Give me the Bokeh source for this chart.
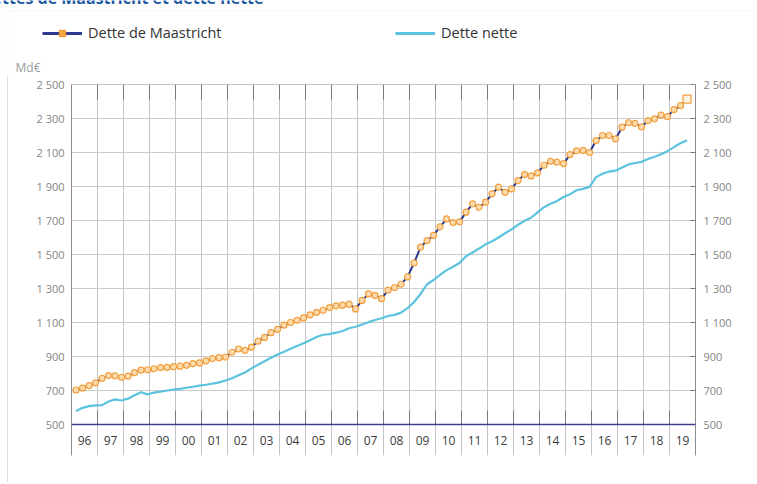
from bokeh.plotting import figure
from bokeh.layouts import column
from bokeh.models import (Range1d, FixedTicker, LinearAxis, Legend, LegendItem,
                          Span, Label, BoxAnnotation)
from bokeh.embed import file_html
from bokeh.resources import INLINE
from bokeh.core.properties import value

# ---------------- data ----------------
title_text = "Dettes de Maastricht et dette nette"
years = list(range(1996, 2020))
year_labels = ["96", "97", "98", "99", "00", "01", "02", "03", "04", "05", "06", "07",
               "08", "09", "10", "11", "12", "13", "14", "15", "16", "17", "18", "19"]

# quarterly, 1996 Q1 .. 2019 Q3 (Md€)
maastricht = [
    703, 714, 729, 745,      # 1996
    772, 788, 786, 778,      # 1997
    785, 805, 820, 822,      # 1998
    828, 835, 836, 840,      # 1999
    843, 848, 858, 862,      # 2000
    874, 888, 893, 897,      # 2001
    925, 944, 936, 955,      # 2002
    990, 1012, 1040, 1060,   # 2003
    1085, 1100, 1113, 1127,  # 2004
    1145, 1160, 1172, 1188,  # 2005
    1198, 1202, 1208, 1180,  # 2006
    1230, 1268, 1260, 1240,  # 2007
    1290, 1306, 1325, 1368,  # 2008
    1450, 1543, 1582, 1612,  # 2009
    1663, 1710, 1688, 1692,  # 2010
    1749, 1798, 1778, 1808,  # 2011
    1857, 1896, 1866, 1886,  # 2012
    1935, 1970, 1962, 1980,  # 2013
    2025, 2048, 2043, 2035,  # 2014
    2088, 2110, 2112, 2100,  # 2015
    2170, 2200, 2200, 2180,  # 2016
    2249, 2275, 2271, 2250,  # 2017
    2288, 2298, 2320, 2311,  # 2018
    2352, 2376, 2414,        # 2019
]

dette_nette = [
    580, 598, 608, 612,      # 1996
    614, 635, 648, 641,      # 1997
    652, 672, 690, 677,      # 1998
    688, 693, 700, 705,      # 1999
    710, 716, 722, 729,      # 2000
    734, 740, 748, 759,      # 2001
    772, 790, 806, 830,      # 2002
    852, 872, 893, 912,      # 2003
    928, 945, 962, 978,      # 2004
    996, 1015, 1028, 1032,   # 2005
    1040, 1050, 1066, 1075,  # 2006
    1088, 1102, 1115, 1125,  # 2007
    1138, 1145, 1158, 1185,  # 2008
    1220, 1268, 1325, 1350,  # 2009
    1380, 1408, 1428, 1450,  # 2010
    1490, 1512, 1535, 1560,  # 2011
    1578, 1600, 1625, 1648,  # 2012
    1675, 1698, 1716, 1748,  # 2013
    1778, 1798, 1815, 1838,  # 2014
    1855, 1878, 1886, 1898,  # 2015
    1955, 1975, 1988, 1993,  # 2016
    2012, 2030, 2038, 2045,  # 2017
    2062, 2075, 2090, 2108,  # 2018
    2132, 2155, 2172,        # 2019
]

y_ticks = [500, 700, 900, 1100, 1300, 1500, 1700, 1900, 2100, 2300, 2500]
y_tick_labels = ["500", "700", "900", "1 100", "1 300", "1 500", "1 700",
                 "1 900", "2 100", "2 300", "2 500"]

# ---------------- geometry ----------------
FONT = "Open Sans"
BOX_X, BOX_Y = 7, 10           # chart box corner on the page
PAGE_W = 757
HEAD_H = 76
W = PAGE_W - BOX_X
H = 406
B_LEFT, B_TOP, B_BOTTOM = 64, 8, 27
FRAME_W = 624
B_RIGHT = W - B_LEFT - FRAME_W
frame_h = H - B_TOP - B_BOTTOM
px_per_unit = 34.0 / 200.0          # 200 Md€ = 34 px
y_top = y_ticks[-1]
y_bottom = y_top - frame_h / px_per_unit   # band below 500 for the year labels

boundaries = years + [years[-1] + 1]
quarter_x = [yr + (q - 0.3) / 4.0 for yr in years for q in range(1, 5)]
xm = quarter_x[:len(maastricht)]
xn = quarter_x[:len(dette_nette)]

NAVY = "#2e3a8f"
ORANGE_LINE = "#f0a040"
ORANGE_FILL = "#fcdcae"
BLUE = "#5bc3dd"
BOX_COLOR = "#e0e0e0"


def no_frame_align(fig):
    if "frame_align" in fig.properties():
        fig.frame_align = False


# ---------------- header: cropped title, box top, legend, unit ----------------
head = figure(width=PAGE_W, height=HEAD_H, output_backend="svg", toolbar_location=None,
              x_range=Range1d(0, PAGE_W), y_range=Range1d(HEAD_H, 0),
              x_axis_location=None, y_axis_location=None,
              min_border=0, min_border_left=0, min_border_right=0,
              min_border_top=0, min_border_bottom=0)
no_frame_align(head)
head.outline_line_color = None
head.background_fill_color = None
head.border_fill_color = None
head.xgrid.visible = False
head.ygrid.visible = False

# title of the page, cut by the top of the picture as in the original
head.add_layout(Label(x=263, y=-3, text=title_text, text_font=FONT,
                      text_font_size="16px", text_font_style="bold",
                      text_color="#1d58a3", text_align="right",
                      text_baseline="alphabetic"))

# top-left corner of the chart box
head.add_layout(BoxAnnotation(left=BOX_X + 0.5, right=PAGE_W + 20,
                              top=BOX_Y + 0.5, bottom=HEAD_H + 20,
                              fill_alpha=0, line_color=BOX_COLOR, line_width=1))

# the series again, out of this strip's vertical range: they only feed the legend glyphs
h_line_m = head.line(xm, maastricht, line_color=NAVY, line_width=3)
h_sq_m = head.scatter(xm, maastricht, marker="square", size=8,
                      fill_color="#f5a63e", line_color="#e8952c")
h_line_n = head.line(xn, dette_nette, line_color=BLUE, line_width=3)

leg_common = dict(orientation="horizontal", padding=0, margin=0, spacing=0,
                  border_line_color=None, background_fill_alpha=0,
                  glyph_width=40, glyph_height=16, label_height=16,
                  label_standoff=6, label_text_font=FONT,
                  label_text_font_size="14.5px", label_text_color="#333333")
leg_center_y = 34
leg_y = HEAD_H - (leg_center_y + 8)
head.add_layout(Legend(items=[LegendItem(label="Dette de Maastricht",
                                         renderers=[h_line_m, h_sq_m])],
                       location=(42, leg_y), **leg_common))
head.add_layout(Legend(items=[LegendItem(label="Dette nette", renderers=[h_line_n])],
                       location=(395, leg_y), **leg_common))
head.add_layout(Label(x=15, y=67, text="Md€", text_font=FONT,
                      text_font_size="12px", text_color="#9a9a9a",
                      text_baseline="middle", text_align="left"))

# ---------------- main chart ----------------
p = figure(width=W, height=H, output_backend="svg", toolbar_location=None,
           x_range=Range1d(years[0], years[-1] + 1),
           y_range=Range1d(y_bottom, y_top),
           x_axis_location="below", y_axis_location="left",
           min_border_left=B_LEFT, min_border_right=B_RIGHT,
           min_border_top=B_TOP, min_border_bottom=B_BOTTOM,
           margin=(0, 0, 0, BOX_X),
           styles={"box-shadow": "inset 1px 0 0 0 " + BOX_COLOR})
no_frame_align(p)
p.outline_line_color = None
p.background_fill_color = None
p.border_fill_color = None

xa = p.xaxis[0]
xa.visible = False
xa.ticker = FixedTicker(ticks=boundaries)

p.xgrid.ticker = FixedTicker(ticks=boundaries)
p.xgrid.grid_line_color = "#c4c4c4"
p.ygrid.ticker = FixedTicker(ticks=y_ticks)
p.ygrid.grid_line_color = "#cbcbcb"

ya = p.yaxis[0]
ya.ticker = FixedTicker(ticks=y_ticks)
ya.major_label_overrides = dict(zip(y_ticks, y_tick_labels))
ya.major_tick_in = 0
ya.major_tick_out = 0
ya.minor_tick_line_color = None
ya.axis_line_color = "#8c8c8c"
ya.major_label_standoff = 7
ya.major_label_text_font = FONT
ya.major_label_text_font_size = "11px"
ya.major_label_text_color = "#858585"

ra = LinearAxis(ticker=FixedTicker(ticks=y_ticks),
                major_label_overrides=dict(zip(y_ticks, y_tick_labels)))
ra.major_tick_in = 5
ra.major_tick_out = 0
ra.major_tick_line_color = "#7a7a7a"
ra.minor_tick_line_color = None
ra.axis_line_color = "#8c8c8c"
ra.major_label_standoff = 8
ra.major_label_text_font = FONT
ra.major_label_text_font_size = "11px"
ra.major_label_text_color = "#858585"
p.add_layout(ra, "right")

# frame top line with inward ticks at year boundaries
p.add_layout(Span(location=y_ticks[-1], dimension="width",
                  line_color="#8c8c8c", line_width=1))
top_tick = 15 / px_per_unit
p.segment(x0=boundaries, y0=[y_ticks[-1]] * len(boundaries),
          x1=boundaries, y1=[y_ticks[-1] - top_tick] * len(boundaries),
          line_color="#7a7a7a", line_width=1)

# base axis line at 500 and its inward ticks
p.add_layout(Span(location=y_ticks[0], dimension="width",
                  line_color="#3d3d8a", line_width=1.5))
tick_len = 14 / px_per_unit
p.segment(x0=boundaries, y0=[y_ticks[0]] * len(boundaries),
          x1=boundaries, y1=[y_ticks[0] + tick_len] * len(boundaries),
          line_color="#7a7a7a", line_width=1)

# year labels in the band under the axis
label_y = y_ticks[0] - 16 / px_per_unit
p.text(x=[yr + 0.5 for yr in years], y=[label_y] * len(years), text=year_labels,
       text_font=value(FONT), text_font_size="12px", text_color="#3c3c3c",
       text_align="center", text_baseline="middle")

# series
p.line(xn, dette_nette, line_color=BLUE, line_width=2.2)
p.line(xm, maastricht, line_color=NAVY, line_width=2)
p.scatter(xm[:-1], maastricht[:-1], marker="circle", size=6,
          fill_color=ORANGE_FILL, line_color=ORANGE_LINE, line_width=1.2)
p.scatter(xm[-1:], maastricht[-1:], marker="square", size=8,
          fill_color="#fff4e4", line_color=ORANGE_LINE, line_width=1.3)

layout = column(head, p)

open("out.html", "w").write(file_html(layout, INLINE))
